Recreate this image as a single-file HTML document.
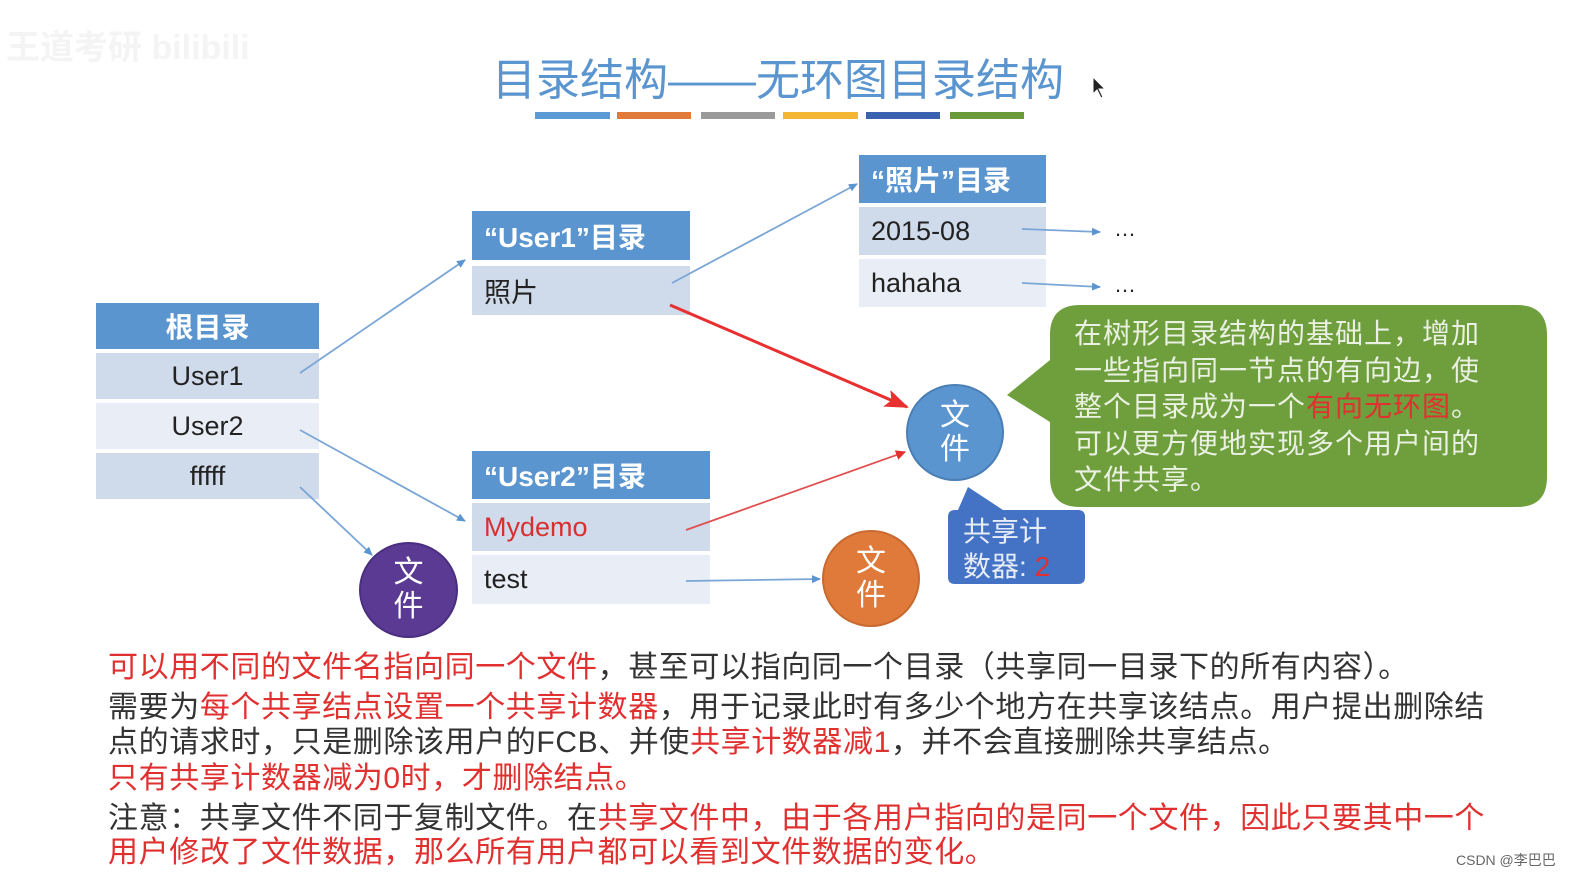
<!DOCTYPE html>
<html><head><meta charset="utf-8">
<style>
body{margin:0;width:1594px;height:890px;background:#fff;position:relative;overflow:hidden;font-family:"Liberation Sans","Noto Sans CJK SC",sans-serif;}
.a{position:absolute;box-sizing:border-box;}
.h{background:#5b95cf;color:#fff;font-weight:bold;font-size:28px;display:flex;align-items:center;}
.r1{background:#cfdaea;}
.r2{background:#e9eef6;}
.c{color:#222;font-size:27px;display:flex;align-items:center;}
.ln{position:absolute;left:108px;white-space:nowrap;font-size:30px;letter-spacing:0.6px;color:#333;line-height:34px;}
.red{color:#e03030;}
.circ{position:absolute;border-radius:50%;color:#fff;font-size:30px;line-height:34px;text-align:center;display:flex;align-items:center;justify-content:center;}
</style></head><body>
<div class="a" style="left:6px;top:20px;font-size:34px;color:#f4f4f4;font-weight:bold;">王道考研 bilibili</div>
<div class="a" style="left:0;width:1556px;top:44px;text-align:center;font-size:44px;color:#5b95cf;">目录结构——无环图目录结构</div>
<div class="a" style="left:535px;top:112px;width:75px;height:7px;background:#5b9bd5"></div>
<div class="a" style="left:617px;top:112px;width:74px;height:7px;background:#e07a3a"></div>
<div class="a" style="left:701px;top:112px;width:74px;height:7px;background:#9a9a9a"></div>
<div class="a" style="left:783px;top:112px;width:75px;height:7px;background:#f2b632"></div>
<div class="a" style="left:866px;top:112px;width:74px;height:7px;background:#3a62b0"></div>
<div class="a" style="left:950px;top:112px;width:74px;height:7px;background:#6a9a3a"></div>
<svg class="a" style="left:1092px;top:76px" width="16" height="24"><path d="M1,1 L1,18 L5,14 L9,22 L11,21 L7,13 L13,13Z" fill="#222" stroke="#fff" stroke-width="1"/></svg>

<!-- root -->
<div class="a h" style="left:96px;top:303px;width:223px;height:46px;justify-content:center;">根目录</div>
<div class="a r1 c" style="left:96px;top:353px;width:223px;height:46px;justify-content:center;">User1</div>
<div class="a r2 c" style="left:96px;top:403px;width:223px;height:46px;justify-content:center;">User2</div>
<div class="a r1 c" style="left:96px;top:453px;width:223px;height:46px;justify-content:center;">fffff</div>

<!-- user1 -->
<div class="a h" style="left:472px;top:211px;width:218px;height:49px;padding-left:12px;">“User1”目录</div>
<div class="a r1 c" style="left:472px;top:266px;width:218px;height:49px;padding-left:12px;">照片</div>

<!-- photos -->
<div class="a h" style="left:859px;top:155px;width:187px;height:48px;padding-left:12px;">“照片”目录</div>
<div class="a r1 c" style="left:859px;top:207px;width:187px;height:48px;padding-left:12px;">2015-08</div>
<div class="a r2 c" style="left:859px;top:259px;width:187px;height:48px;padding-left:12px;">hahaha</div>
<div class="a" style="left:1114px;top:216px;font-size:22px;color:#222;">…</div>
<div class="a" style="left:1114px;top:272px;font-size:22px;color:#222;">…</div>

<!-- user2 -->
<div class="a h" style="left:472px;top:451px;width:238px;height:48px;padding-left:12px;">“User2”目录</div>
<div class="a r1 c" style="left:472px;top:503px;width:238px;height:48px;padding-left:12px;color:#d83030;">Mydemo</div>
<div class="a r2 c" style="left:472px;top:555px;width:238px;height:49px;padding-left:12px;">test</div>

<svg class="a" style="left:0;top:0" width="1594" height="890">
<defs>
<marker id="ab" markerWidth="10" markerHeight="10" refX="8" refY="4" orient="auto" markerUnits="userSpaceOnUse"><path d="M0,0 L9,4 L0,8z" fill="#5b95cf"/></marker>
<marker id="ar" markerWidth="12" markerHeight="12" refX="9" refY="5" orient="auto" markerUnits="userSpaceOnUse"><path d="M0,0 L10,5 L0,10z" fill="#e03030"/></marker>
<marker id="ar2" markerWidth="26" markerHeight="20" refX="22" refY="9" orient="auto" markerUnits="userSpaceOnUse"><path d="M0,0 L24,9 L0,18 L5,9z" fill="#e83030"/></marker>
</defs>
<g stroke="#7aa6d6" stroke-width="1.8" fill="none">
<line x1="300" y1="373" x2="465" y2="260" marker-end="url(#ab)"/>
<line x1="300" y1="430" x2="465" y2="521" marker-end="url(#ab)"/>
<line x1="300" y1="487" x2="372" y2="555" marker-end="url(#ab)"/>
<line x1="672" y1="283" x2="857" y2="184" marker-end="url(#ab)"/>
<line x1="1022" y1="229" x2="1100" y2="232" marker-end="url(#ab)"/>
<line x1="1022" y1="283" x2="1100" y2="287" marker-end="url(#ab)"/>
<line x1="686" y1="581" x2="820" y2="579" marker-end="url(#ab)"/>
</g>
<line x1="686" y1="530" x2="905" y2="452" stroke="#e05050" stroke-width="1.8" marker-end="url(#ar)"/>
<line x1="670" y1="305" x2="907" y2="407" stroke="#e83030" stroke-width="3" marker-end="url(#ar2)"/>
<path d="M1080,305 H1517 Q1547,305 1547,335 V477 Q1547,507 1517,507 H1080 Q1050,507 1050,477 V422 L1007,395 L1050,360 V335 Q1050,305 1080,305Z" fill="#6f9f3d"/>
<path d="M958,510 L968,487 L1003,510 H1078 Q1085,510 1085,517 V577 Q1085,584 1078,584 H955 Q948,584 948,577 V517 Q948,510 955,510Z" fill="#4472c4"/>
</svg>
<div class="a" style="left:1074px;top:316px;font-size:28px;line-height:36.5px;color:#eaf0e2;letter-spacing:1px;white-space:nowrap;">在树形目录结构的基础上，增加<br>一些指向同一节点的有向边，使<br>整个目录成为一个<span style="color:#e03030">有向无环图</span>。<br>可以更方便地实现多个用户间的<br>文件共享。</div>
<div class="a" style="left:963px;top:514px;font-size:28px;line-height:35px;color:#e6ecf8;white-space:nowrap;">共享计<br>数器: <span style="color:#e03030">2</span></div>

<div class="circ" style="left:906px;top:384px;width:94px;height:93px;background:#5b95cf;border:2px solid #4a7fb5;">文<br>件</div>
<div class="circ" style="left:822px;top:530px;width:94px;height:93px;background:#e07a3a;border:2px solid #c86a30;">文<br>件</div>
<div class="circ" style="left:359px;top:542px;width:95px;height:92px;background:#5b3a94;border:2px solid #4a2f80;">文<br>件</div>

<div class="ln" style="top:651px;"><span class="red">可以用不同的文件名指向同一个文件</span>，甚至可以指向同一个目录（共享同一目录下的所有内容）。</div>
<div class="ln" style="top:691px;">需要为<span class="red">每个共享结点设置一个共享计数器</span>，用于记录此时有多少个地方在共享该结点。用户提出删除结</div>
<div class="ln" style="top:726px;">点的请求时，只是删除该用户的FCB、并使<span class="red">共享计数器减1</span>，并不会直接删除共享结点。</div>
<div class="ln red" style="top:762px;">只有共享计数器减为0时，才删除结点。</div>
<div class="ln" style="top:802px;">注意：共享文件不同于复制文件。在<span class="red">共享文件中，由于各用户指向的是同一个文件，因此只要其中一个</span></div>
<div class="ln red" style="top:836px;">用户修改了文件数据，那么所有用户都可以看到文件数据的变化。</div>
<div class="a" style="left:1456px;top:850px;font-size:14px;color:#666;">CSDN @李巴巴</div>
</body></html>
